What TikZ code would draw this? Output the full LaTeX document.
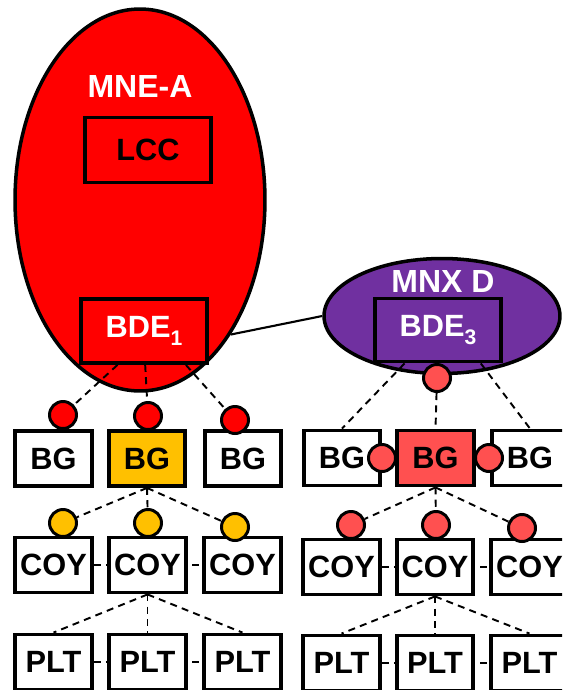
\documentclass[tikz,border=0pt]{standalone}
\usepackage{fontspec}
\setmainfont{Liberation Sans}
\usepackage{xcolor}
\usetikzlibrary{shapes.geometric}
\pgfdeclarelayer{background}
\pgfdeclarelayer{links}
\pgfsetlayers{background,links,main}
\newcommand{\unitsub}[1]{\raisebox{-5pt}{\fontsize{12}{12}\selectfont #1}}

\begin{document}
\begin{tikzpicture}[x=0.02cm,y=-0.02cm,
  unitbox/.style={draw,line width=2.2pt,minimum width=1.53cm,minimum height=1.1cm,inner sep=0,font=\fontsize{17.5}{20}\selectfont\bfseries},
  joint/.style={circle,draw,line width=1.7pt,minimum size=0.54cm,inner sep=0},
  dashlink/.style={line width=1.1pt,dash pattern=on 4pt off 3pt},
  bigtext/.style={text=white,font=\fontsize{18.2}{21}\selectfont\bfseries}]
\definecolor{mnered}{HTML}{FF0000}
\definecolor{mnxpurple}{HTML}{7030A0}
\definecolor{bgamber}{HTML}{FFC000}
\definecolor{bgcoral}{HTML}{FF5050}
\useasboundingbox (0,0) rectangle (562,690);
\clip (0,0) rectangle (562,690);
% the two parents
\begin{pgfonlayer}{background}
\node [ellipse,draw,line width=2pt,fill=mnered,minimum width=5cm,minimum height=7.64cm] (mnea) at (140,200) {};
\node [ellipse,draw,line width=2pt,fill=mnxpurple,minimum width=4.72cm,minimum height=2.3cm] (mnxd) at (442,316) {};
\end{pgfonlayer}
\node [bigtext] (mnealabel) at (140,86) {MNE-A};
\node [bigtext] (mnxdlabel) at (443,281) {MNX D};
\node [unitbox,fill=mnered,minimum width=2.52cm,minimum height=1.3cm] (lcc) at (148,150) {LCC};
\node [unitbox,fill=mnered,text=white,minimum width=2.52cm,minimum height=1.28cm] (bde1) at (144,331) {BDE\unitsub{1}};
\node [unitbox,fill=mnxpurple,text=white,minimum width=2.52cm,minimum height=1.26cm] (bde3) at (438,330) {BDE\unitsub{3}};
% left tree
\foreach \k/\x/\crlr in {1/53.5/white,2/147/bgamber,3/243/white}
  {\node [unitbox,fill=\crlr] (bgl\k) at (\x,458.5) {BG};}
\foreach \k/\x in {1/53.5,2/147.5,3/242.5}
  {\node [unitbox,fill=white] (coyl\k) at (\x,565) {COY};
   \node [unitbox,fill=white] (pltl\k) at (\x,662) {PLT};}
\foreach \k/\x/\y in {1/63/415,2/148/416,3/235/420}
  {\node [joint,fill=mnered] (redl\k) at (\x,\y) {};}
\foreach \k/\x/\y in {1/63/523,2/148/523,3/235/527}
  {\node [joint,fill=bgamber] (ambl\k) at (\x,\y) {};}
% right tree
\foreach \k/\x/\crlr in {1/342/white,2/435.5/bgcoral,3/530/white}
  {\node [unitbox,fill=\crlr] (bgr\k) at (\x,458) {BG};}
\foreach \k/\x in {1/341.5,2/435,3/529.5}
  {\node [unitbox,fill=white] (coyr\k) at (\x,567) {COY};
   \node [unitbox,fill=white] (pltr\k) at (\x,663) {PLT};}
\node [joint,fill=bgcoral] (redr0) at (437,378) {};
\node [joint,fill=bgcoral] (redr1) at (382,458) {};
\node [joint,fill=bgcoral] (redr2) at (489,458) {};
\foreach \k/\x/\y in {1/351/525,2/436/525,3/522/528}
  {\node [joint,fill=bgcoral] (pinkr\k) at (\x,\y) {};}
% connectors
\begin{pgfonlayer}{links}
\draw [line width=1.2pt] (mnea.-56) -- (mnxd.180);
\foreach \a/\k in {-128/1,-88/2,-39/3}
  {\draw [dashlink] (bde1.\a) -- (redl\k);}
\draw [dashlink] (bde3.-135) -- (bgr1.north);
\draw [dashlink] (redr0) -- (bgr2.north);
\draw [dashlink] (bde3.-38) -- (bgr3.north);
\foreach \k in {1,2,3}
  {\draw [dashlink] (bgl2.south) -- (ambl\k);
   \draw [dashlink] (bgr2.south) -- (pinkr\k);
   \draw [dashlink] (coyl2.south) -- (pltl\k.north);
   \draw [dashlink] (coyr2.south) -- (pltr\k.north);}
\draw [dashlink] (coyl1) -- (coyl3);
\draw [dashlink] (pltl1) -- (pltl3);
\draw [dashlink] (coyr1) -- (coyr3);
\draw [dashlink] (pltr1) -- (pltr3);
\end{pgfonlayer}
\end{tikzpicture}
\end{document}
